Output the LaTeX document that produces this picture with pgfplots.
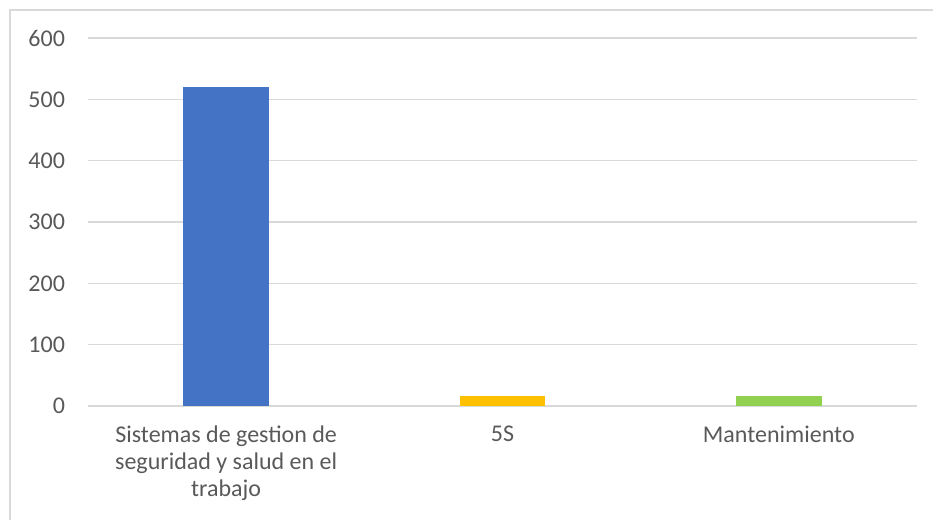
\documentclass[border=0pt]{standalone}
\usepackage{pgfplots}
\pgfplotsset{compat=1.18}
\usepackage{fontspec}
\setmainfont{Carlito}
\definecolor{cblue}{HTML}{4472C4}
\definecolor{cyellow}{HTML}{FFC000}
\definecolor{cgreen}{HTML}{92D050}
\definecolor{cgrid}{HTML}{D9D9D9}
\definecolor{ctext}{HTML}{595959}
\begin{document}
\begin{tikzpicture}
\path[use as bounding box] (0pt,0pt) rectangle (466.5pt,260pt);
\draw[cgrid, line width=0.9pt] (5pt,0pt) -- (5pt,255pt) -- (466.5pt,255pt);
\begin{axis}[
  at={(44pt,57pt)}, anchor=south west,
  scale only axis, width=414.5pt, height=184pt,
  ybar, bar shift=0pt, bar width=0.311,
  xmin=-0.5, xmax=2.5, ymin=0, ymax=600,
  ytick={0,100,...,600},
  xtick={0,1,2},
  xticklabels={{Sistemas de gestion de\\seguridad y salud en el\\trabajo},{5S},{Mantenimiento}},
  xticklabel style={align=center, font=\fontsize{12}{13.4}\selectfont, text=ctext, anchor=north, yshift=-6.5pt},
  yticklabel style={font=\fontsize{12}{13.4}\selectfont, text=ctext, anchor=east, xshift=-8pt},
  /pgf/number format/assume math mode=true,
  major tick length=0pt,
  ymajorgrids, grid style={cgrid, line width=0.8pt},
  axis lines=left, axis line style={-},
  x axis line style={draw=cgrid, line width=1.2pt},
  y axis line style={draw=none},
]
\addplot[fill=cblue, draw=none] coordinates {(0,520)};
\addplot[fill=cyellow, draw=none] coordinates {(1,16)};
\addplot[fill=cgreen, draw=none] coordinates {(2,17)};
\end{axis}
\end{tikzpicture}
\end{document}
